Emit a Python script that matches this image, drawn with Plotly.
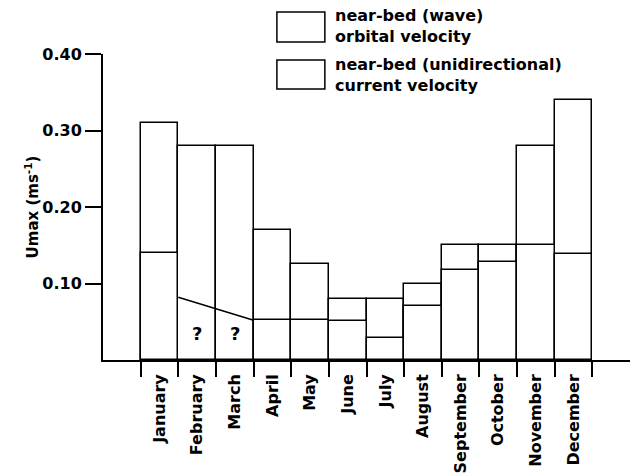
import plotly.graph_objects as go

months = ["January", "February", "March", "April", "May", "June", "July",
          "August", "September", "October", "November", "December"]
# total near-bed max velocity (wave orbital, top of each box)
orbital = [0.31, 0.28, 0.28, 0.17, 0.125, 0.08, 0.08, 0.10, 0.15, 0.15, 0.28, 0.34]
# near-bed unidirectional current velocity (lower box); Feb/Mar uncertain
current = [0.14, None, None, 0.052, 0.052, 0.051, 0.029, 0.071, 0.118, 0.128, 0.15, 0.139]
# uncertain current for Feb-Mar, drawn as a sloping line across the two months
uncertain_months = ["February", "March"]
uncertain_current = [0.082, 0.052]
question_y = 0.035
y_ticks = [0.10, 0.20, 0.30, 0.40]
y_ticktext = ["0.10", "0.20", "0.30", "0.40"]

FONT = "DejaVu Sans"
idx = list(range(len(months)))
edges = [i - 0.5 for i in idx] + [idx[-1] + 0.5]

fig = go.Figure()
fig.add_trace(go.Bar(x=idx, y=orbital, width=1, marker=dict(color="white", line=dict(color="black", width=1.5)),
                     showlegend=False, hoverinfo="skip"))
fig.add_trace(go.Bar(x=idx, y=current, width=1, marker=dict(color="white", line=dict(color="black", width=1.5)),
                     showlegend=False, hoverinfo="skip"))
ux = [months.index(uncertain_months[0]) - 0.5, months.index(uncertain_months[-1]) + 0.5]
fig.add_trace(go.Scatter(x=ux, y=uncertain_current, mode="lines", line=dict(color="black", width=1.5),
                         showlegend=False, hoverinfo="skip"))
# invisible carrier trace so the month-label axis is drawn
fig.add_trace(go.Scatter(x=idx, y=orbital, mode="markers", marker=dict(opacity=0), xaxis="x2",
                         showlegend=False, hoverinfo="skip"))

for m in uncertain_months:
    fig.add_annotation(x=months.index(m), y=question_y, text="<b>?</b>", showarrow=False,
                       font=dict(family=FONT, size=18, color="black"))

# legend boxes and text
fig.add_shape(type="rect", xref="paper", yref="paper", x0=0.330, x1=0.421, y0=1.039, y1=1.137,
              line=dict(color="black", width=1.5), fillcolor="white")
fig.add_shape(type="rect", xref="paper", yref="paper", x0=0.330, x1=0.421, y0=0.886, y1=0.980,
              line=dict(color="black", width=1.5), fillcolor="white")
fig.add_annotation(xref="paper", yref="paper", x=0.436, y=1.092, xanchor="left", yanchor="middle",
                   text="<b>near-bed (wave)<br>orbital velocity</b>", showarrow=False, align="left",
                   font=dict(family=FONT, size=16, color="black"))
fig.add_annotation(xref="paper", yref="paper", x=0.436, y=0.933, xanchor="left", yanchor="middle",
                   text="<b>near-bed (unidirectional)<br>current velocity</b>", showarrow=False, align="left",
                   font=dict(family=FONT, size=16, color="black"))

fig.update_layout(
    width=641, height=474,
    margin=dict(l=103, r=11, t=54, b=114),
    paper_bgcolor="white", plot_bgcolor="white",
    barmode="overlay", bargap=0,
    font=dict(family=FONT, color="black"),
    xaxis=dict(range=[-1.5, len(months) + 0.5], tickvals=edges, ticks="outside", ticklen=15, tickwidth=1.5,
               tickcolor="black", showticklabels=False, showline=True, linewidth=2, linecolor="black",
               showgrid=False, zeroline=False, automargin=False, fixedrange=True),
    xaxis2=dict(range=[-1.5, len(months) + 0.5], overlaying="x", anchor="y", side="bottom",
                tickvals=idx, ticktext=["<b>%s</b>" % m for m in months], tickangle=-90, ticks="",
                showline=False, showgrid=False, zeroline=False, ticklabelstandoff=10, automargin=False,
                tickfont=dict(family=FONT, size=16, color="black"), fixedrange=True),
    yaxis=dict(range=[0, 0.40], tickvals=y_ticks, ticktext=["<b>%s</b>" % t for t in y_ticktext],
               ticks="outside", ticklen=16, tickwidth=1.5, tickcolor="black", automargin=False,
               showline=True, linewidth=2, linecolor="black", showgrid=False, zeroline=False,
               tickfont=dict(family=FONT, size=16, color="black"), fixedrange=True,
               title=dict(text="<b>Umax (ms<sup>-1</sup>)</b>", standoff=0,
                          font=dict(family=FONT, size=15, color="black"))),
    yaxis2=dict(range=[0, 0.40], overlaying="y", side="right", anchor="x", tickvals=y_ticks[:-1],
                ticks="outside", ticklen=10, tickwidth=1.5, tickcolor="black", showticklabels=False,
                automargin=False, fixedrange=True,
                showline=True, linewidth=2, linecolor="black", showgrid=False, zeroline=False),
)

fig.write_html("out.html", config={"displayModeBar": False},
               post_script="document.body.style.margin='0px';")
